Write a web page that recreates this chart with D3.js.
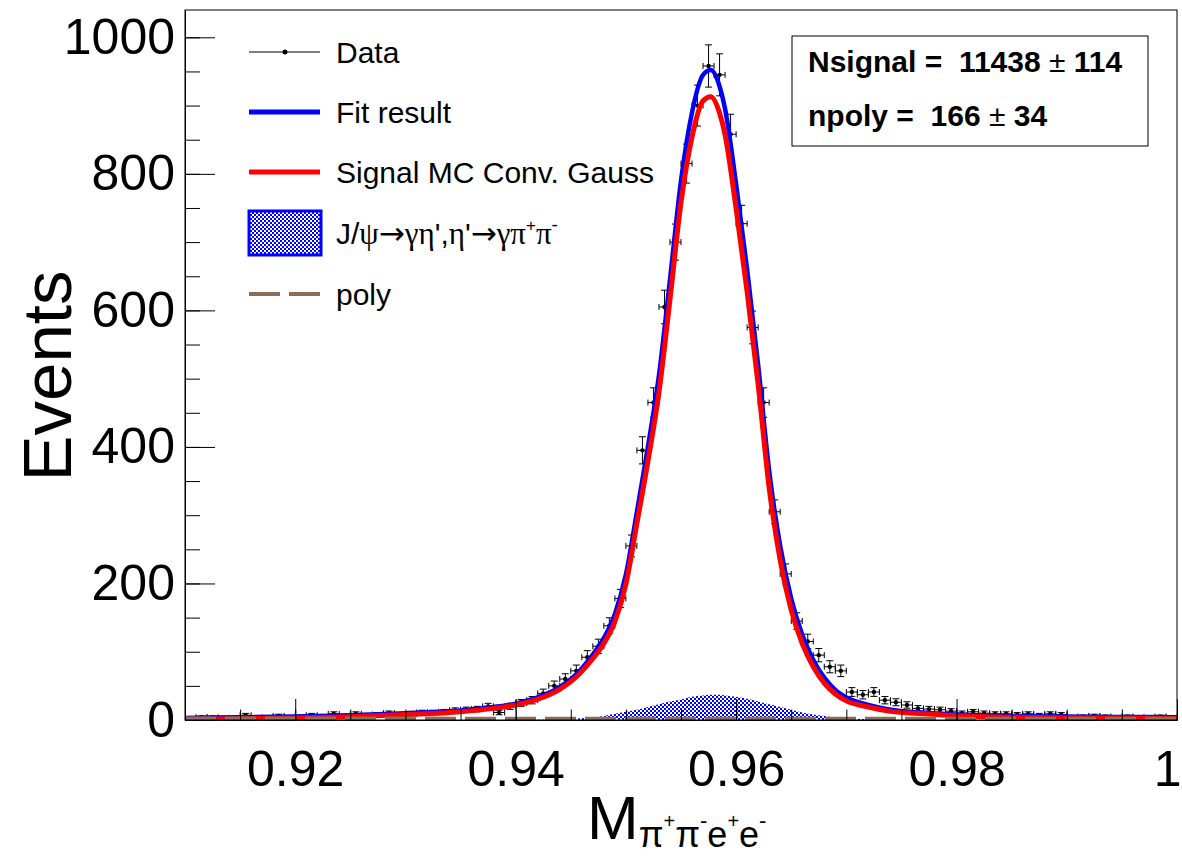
<!DOCTYPE html>
<html><head><meta charset="utf-8">
<script src="https://cdn.jsdelivr.net/npm/d3@7"></script>
<style>body{margin:0;background:#fff} text{white-space:pre}</style>
</head><body>
<svg id="c" width="1182" height="857"></svg>
<script>
// ---------------- data ----------------
const binCenters = [0.9105,0.9115,0.9125,0.9135,0.9145,0.9155,0.9165,0.9175,0.9185,0.9195,
0.9205,0.9215,0.9225,0.9235,0.9245,0.9255,0.9265,0.9275,0.9285,0.9295,
0.9305,0.9315,0.9325,0.9335,0.9345,0.9355,0.9365,0.9375,0.9385,0.9395,
0.9405,0.9415,0.9425,0.9435,0.9445,0.9455,0.9465,0.9475,0.9485,0.9495,
0.9505,0.9515,0.9525,0.9535,0.9545,0.9555,0.9565,0.9575,0.9585,0.9595,
0.9605,0.9615,0.9625,0.9635,0.9645,0.9655,0.9665,0.9675,0.9685,0.9695,
0.9705,0.9715,0.9725,0.9735,0.9745,0.9755,0.9765,0.9775,0.9785,0.9795,
0.9805,0.9815,0.9825,0.9835,0.9845,0.9855,0.9865,0.9875,0.9885,0.9895,
0.9905,0.9915,0.9925,0.9935,0.9945,0.9955,0.9965,0.9975,0.9985,0.9995];
const binHalfWidth = 0.0005;
const dataCounts = [3,4,4,2,3,7,1,4,6,4,
5,7,5,9,6,9,7,8,10,8,
9,11,11,12,14,15,16,20,11,20,
25,29,39,50,60,72,92,108,138,178,
255,395,465,605,700,815,900,958,945,858,
727,575,465,305,214,145,115,95,78,72,
41,37,41,29,26,22,17,16,15,13,
10,12,10,9,9,8,9,7,9,8,
4,5,6,5,3,5,4,3,5,4];

const curveX = [0.910,0.915,0.920,0.925,0.930,0.935,0.938,0.940,0.942,0.944,0.9455,0.947,0.948,0.949,0.950,0.951,0.952,0.953,0.954,0.955,0.956,0.957,0.9577,0.9585,0.959,0.960,0.961,0.962,0.963,0.964,0.965,0.966,0.967,0.968,0.969,0.970,0.972,0.974,0.977,0.980,0.985,0.990,0.995,1.000];
const fitTotal = [3,4,5,7,10,14,19,24,33,48,67,96,120,155,213,305,400,505,645,790,890,945,952,928,895,785,660,520,365,255,178,125,88,62,44,33,22,15,11,8,6,5,4.5,4];
const signalMC = [1,1.8,2.8,4.9,7.9,12,17,22,30.5,45,63,90,112,144,199,288,379,480,616,758,854,907,913,889,857,749,627,491,340,234,161,112,78,54,38,28,19,12.6,9,6.2,4.2,3.2,2.8,2.3];
const peakingBkg = [0,0,0,0,0,0,0,0,0.5,1,2,4,6,9,12,15,19,23,27,30,34,36,37,37,36,34,31,27,23,19,15,11,8,6,4,3,1,0.5,0,0,0,0,0,0];
const polyBkg = [2.2,2.2,2.2,2.1,2.1,2.0,2.0,2.0,2.0,2.0,2.0,2.0,2.0,2.0,2.0,2.0,2.0,2.0,2.0,2.0,2.0,2.0,2.0,2.0,2.0,2.0,2.0,2.0,2.0,2.0,2.0,2.0,2.0,2.0,1.9,1.9,1.9,1.9,1.9,1.8,1.8,1.8,1.7,1.7];

const yTickValues = [0,200,400,600,800,1000];
const yTickLabels = ["0","200","400","600","800","1000"];
const xTickValues = [0.92,0.94,0.96,0.98,1.0];
const xTickLabels = ["0.92","0.94","0.96","0.98","1"];
const legendLabels = ["Data","Fit result","Signal MC Conv. Gauss","J/\u03c8\u2192\u03b3\u03b7',\u03b7'\u2192\u03b3\u03c0\u207a\u03c0\u207b","poly"];
const statLines = [["Nsignal =  11438 ","\u00b1"," 114"],["npoly =  166 ","\u00b1"," 34"]];

// ---------------- drawing ----------------
const FONT = "'Liberation Sans', Arial, Helvetica, sans-serif";
const SERIF = "'Liberation Serif', 'Times New Roman', serif";
const ARROW = "'DejaVu Sans', sans-serif";
const svg = d3.select('#c');
const L = 185, R = 1177, T = 10, B = 720;
const x = d3.scaleLinear().domain([0.91, 1.0]).range([L, R]);
const y = d3.scaleLinear().domain([0, 1040]).range([B, T]);

const defs = svg.append('defs');
defs.append('clipPath').attr('id','clip').append('rect').attr('x',L).attr('y',T).attr('width',R-L).attr('height',B-T);
const pat = defs.append('pattern').attr('id','hatch').attr('width',4).attr('height',4).attr('patternUnits','userSpaceOnUse');
pat.append('rect').attr('x',0).attr('y',0).attr('width',2).attr('height',2).attr('fill','#0000ff');
pat.append('rect').attr('x',2).attr('y',2).attr('width',2).attr('height',2).attr('fill','#0000ff');

svg.append('rect').attr('width',1182).attr('height',857).attr('fill','#fff');

const plot = svg.append('g').attr('clip-path','url(#clip)');

// data points with error bars
const dg = plot.append('g').attr('stroke','#000').attr('stroke-width',1).attr('fill','none');
binCenters.forEach((c, i) => {
  const v = dataCounts[i], e = Math.sqrt(v);
  const px = x(c), py = y(v);
  const x0 = x(c - binHalfWidth), x1 = x(c + binHalfWidth);
  const yt = y(v + e), yb = y(Math.max(0, v - e));
  dg.append('line').attr('x1',x0).attr('x2',x1).attr('y1',py).attr('y2',py);
  dg.append('line').attr('x1',x0).attr('x2',x0).attr('y1',py-3).attr('y2',py+3);
  dg.append('line').attr('x1',x1).attr('x2',x1).attr('y1',py-3).attr('y2',py+3);
  dg.append('line').attr('x1',px).attr('x2',px).attr('y1',yt).attr('y2',yb);
  dg.append('line').attr('x1',px-3.5).attr('x2',px+3.5).attr('y1',yt).attr('y2',yt);
  dg.append('line').attr('x1',px-3.5).attr('x2',px+3.5).attr('y1',yb).attr('y2',yb);
  plot.append('circle').attr('cx',px).attr('cy',py).attr('r',2.2).attr('fill','#000');
});

const line = arr => d3.line().x((d,i)=>x(curveX[i])).y(d=>y(d)).curve(d3.curveMonotoneX)(arr);
plot.append('path').attr('d', line(fitTotal)).attr('fill','none').attr('stroke','#0000ff').attr('stroke-width',4.5);
plot.append('path').attr('d', line(signalMC)).attr('fill','none').attr('stroke','#ff0000').attr('stroke-width',5);
const area = d3.area().x((d,i)=>x(curveX[i])).y0(y(0)).y1(d=>y(d)).curve(d3.curveMonotoneX);
plot.append('path').attr('d', area(peakingBkg)).attr('fill','url(#hatch)').attr('stroke','none');
plot.append('path').attr('d', line(polyBkg)).attr('fill','none').attr('stroke','#8b6d5c').attr('stroke-width',4).attr('stroke-dasharray','31,9');

// frame
svg.append('rect').attr('x',L).attr('y',T).attr('width',R-L).attr('height',B-T).attr('fill','none').attr('stroke','#000').attr('stroke-width',1);

// axes
const yAxis = d3.axisLeft(y).tickValues(yTickValues).tickFormat((d,i)=>yTickLabels[i]).tickSizeInner(-30).tickSizeOuter(0).tickPadding(10);
const yMinor = d3.axisLeft(y).tickValues(d3.range(0, 1040, 50)).tickFormat('').tickSizeInner(-15).tickSizeOuter(0);
const xAxis = d3.axisBottom(x).tickValues(xTickValues).tickFormat((d,i)=>xTickLabels[i]).tickSizeInner(-21).tickSizeOuter(0).tickPadding(30);
const xMinor = d3.axisBottom(x).tickValues(d3.range(0.91, 1.0001, 0.005)).tickFormat('').tickSizeInner(-10.5).tickSizeOuter(0);
function styleAx(g){ g.select('.domain').attr('stroke','#000'); g.selectAll('line').attr('stroke','#000'); g.selectAll('text').attr('font-family',FONT).attr('fill','#000'); }
svg.append('g').attr('transform',`translate(${L},0)`).call(yMinor).call(styleAx);
svg.append('g').attr('transform',`translate(${L},0)`).call(yAxis).call(styleAx).selectAll('text').attr('font-size',50);
svg.append('g').attr('transform',`translate(0,${B})`).call(xMinor).call(styleAx);
const xg = svg.append('g').attr('transform',`translate(0,${B})`).call(xAxis).call(styleAx);
xg.selectAll('text').attr('font-size',50);
xg.selectAll('text').filter((d,i)=>i===xTickValues.length-1).attr('text-anchor','end').attr('dx',4);

// axis titles
svg.append('text').attr('transform','translate(71,376) rotate(-90)').attr('text-anchor','middle')
  .attr('font-family',FONT).attr('font-size',69).text('Events');

function rich(g, segs){
  let cx = 0;
  segs.forEach(s => {
    const t = g.append('text').attr('x',cx).attr('y',s.dy||0).attr('font-family',s.font||FONT)
      .attr('font-size',s.size).text(s.t);
    if (s.weight) t.attr('font-weight',s.weight);
    cx += t.node().getComputedTextLength() + (s.kern||0);
  });
  return cx;
}
const xt = svg.append('g').attr('transform','translate(587,839)');
rich(xt, [{t:'M',size:62},{t:'\u03c0',size:36,dy:8},{t:'+',size:20,dy:-11},{t:'\u03c0',size:36,dy:8},{t:'-',size:22,dy:-11},
  {t:'e',size:36,dy:8},{t:'+',size:20,dy:-11},{t:'e',size:36,dy:8},{t:'-',size:22,dy:-11}]);

// legend
const lg = svg.append('g');
const rowY = [52, 112, 172, 233, 294];
const tx = 336;
lg.append('line').attr('x1',249).attr('x2',320).attr('y1',rowY[0]).attr('y2',rowY[0]).attr('stroke','#000').attr('stroke-width',1);
lg.append('circle').attr('cx',285).attr('cy',rowY[0]).attr('r',2.5).attr('fill','#000');
lg.append('line').attr('x1',249).attr('x2',320).attr('y1',rowY[1]).attr('y2',rowY[1]).attr('stroke','#0000ff').attr('stroke-width',5);
lg.append('line').attr('x1',249).attr('x2',320).attr('y1',rowY[2]).attr('y2',rowY[2]).attr('stroke','#ff0000').attr('stroke-width',5);
lg.append('rect').attr('x',249).attr('y',211).attr('width',72).attr('height',44).attr('fill','url(#hatch)').attr('stroke','#0000ff').attr('stroke-width',3);
lg.append('line').attr('x1',249).attr('x2',320).attr('y1',rowY[4]).attr('y2',rowY[4]).attr('stroke','#8b6d5c').attr('stroke-width',4).attr('stroke-dasharray','31,9');
[0,1,2,4].forEach(i => lg.append('text').attr('x',tx).attr('y',rowY[i]+10.5).attr('font-family',FONT).attr('font-size',30).text(legendLabels[i]));
// J/psi label: split the stored label into pieces for mixed fonts and superscripts
const jl = legendLabels[3];
const jg = lg.append('g').attr('transform',`translate(${tx},${rowY[3]+10.5})`);
rich(jg, [{t:jl.slice(0,2),size:30},{t:jl.slice(2,3),size:31,font:SERIF},{t:jl.slice(3,4),size:31,font:ARROW},{t:jl.slice(4,6),size:31,font:SERIF},
  {t:jl.slice(6,8),size:30},{t:jl.slice(8,9),size:31,font:SERIF},{t:jl.slice(9,10),size:30},{t:jl.slice(10,11),size:31,font:ARROW},
  {t:jl.slice(11,13),size:31,font:SERIF},{t:'+',size:17,dy:-13},{t:jl.slice(14,15),size:31,font:SERIF},{t:'-',size:19,dy:-13}]);

// stats box
svg.append('rect').attr('x',792).attr('y',36).attr('width',356).attr('height',110).attr('fill','#fff').attr('stroke','#000').attr('stroke-width',1);
statLines.forEach((ln, i) => {
  const g = svg.append('g').attr('transform',`translate(808,${72 + i*54})`);
  rich(g, [{t:ln[0],size:30,weight:'bold'},{t:ln[1],size:30},{t:ln[2],size:30,weight:'bold'}]);
});
</script>
</body></html>
